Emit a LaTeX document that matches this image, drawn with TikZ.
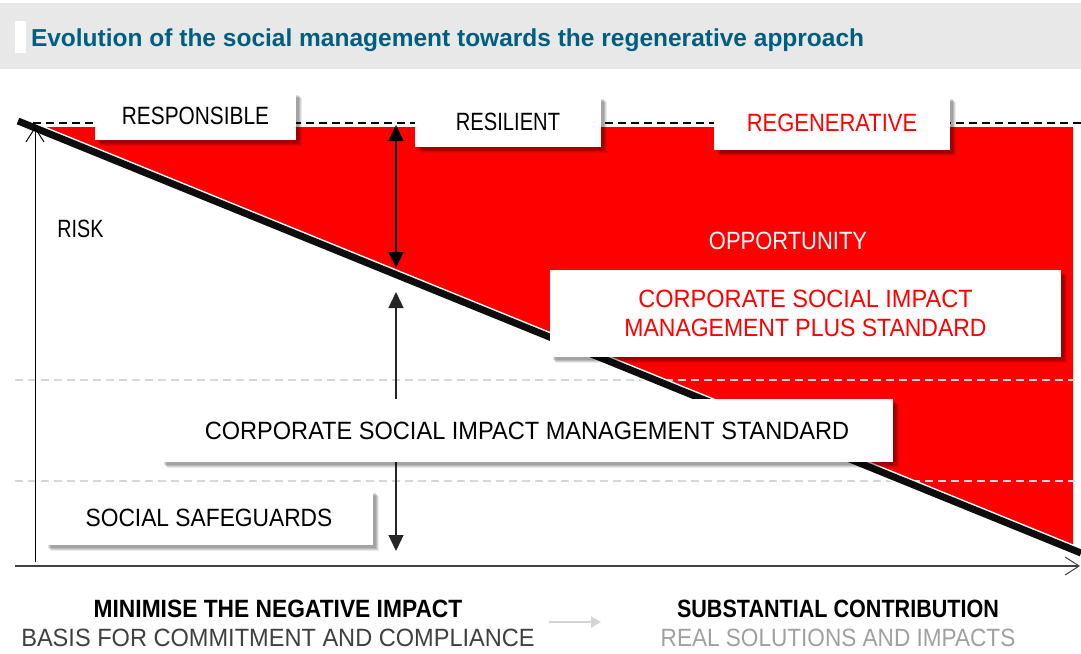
\documentclass[tikz,border=0pt]{standalone}
\usepackage{fontspec}
\setmainfont{Liberation Sans}
\usetikzlibrary{arrows.meta,shadows}
\definecolor{titleteal}{RGB}{0,94,128}
\definecolor{bandgray}{RGB}{232,232,232}
\definecolor{dashgray}{RGB}{215,215,215}
\definecolor{axisgray}{RGB}{64,64,64}
\definecolor{softgray}{RGB}{160,160,160}
\definecolor{arrowgray}{RGB}{212,212,212}
\definecolor{bred}{RGB}{255,0,0}
\newcommand{\nx}[2]{\scalebox{#1}[1]{#2}}
\begin{document}
\begin{tikzpicture}[x=1pt,y=-1pt,
  every node/.style={inner sep=0pt,outer sep=0pt},
  body/.style={font=\fontsize{25}{29}\selectfont},
  boldbody/.style={font=\bfseries\fontsize{25}{29}\selectfont},
  card/.style={fill=white,body,align=center,
    drop shadow={shadow xshift=6pt,shadow yshift=-6pt,opacity=0.08,fill=black},
    drop shadow={shadow xshift=5pt,shadow yshift=-5pt,opacity=0.10,fill=black},
    drop shadow={shadow xshift=4pt,shadow yshift=-4pt,opacity=0.12,fill=black},
    drop shadow={shadow xshift=3pt,shadow yshift=-3pt,opacity=0.12,fill=black}},
  guide/.style={dashgray,line width=1.5pt,dash pattern=on 8pt off 5pt},
  measure/.style={line width=1.3pt,{Triangle[width=15pt,length=16pt]}-{Triangle[width=15pt,length=16pt]}},
  axis/.style={line width=1pt,-{Straight Barb[length=14pt,width=18pt,line width=1pt]}}
]
\useasboundingbox (0,0) rectangle (1081,653);
% header
\fill[bandgray] (0,3) rectangle (1081,69);
\fill[white] (15,21) rectangle (26,53);
\node[anchor=base west,text=titleteal,font=\bfseries\fontsize{24.5}{28}\selectfont] (title) at (31,46.5) {Evolution of the social management towards the regenerative approach};

% red opportunity area
\coordinate (sl) at (18,121);
\coordinate (sr) at (1081,553);
\fill[bred] (32.8,127) -- (1073,127) -- (1073,549.7) -- cycle;

% guides
\coordinate (g1a) at (15,380); \coordinate (g1b) at (1075,380);
\coordinate (g2a) at (15,481); \coordinate (g2b) at (1075,481);
\draw[guide] (g1a) -- (g1b);
\draw[guide] (g2a) -- (g2b);

% slope line
\draw[white,line width=10pt] (sl) -- (sr);
\draw[black!95,line width=7pt] (sl) -- (sr);

% top dashed line
\coordinate (da) at (33,123); \coordinate (db) at (1081,123);
\draw[black,line width=2pt,dash pattern=on 8pt off 5pt] (da) -- (db);

% axes
\coordinate (yo) at (35,562); \coordinate (yt) at (35,127);
\coordinate (xo) at (15,566); \coordinate (xt) at (1080,566);
\draw[axis,black] (yo) -- (yt);
\draw[axis,axisgray,line width=1.5pt] (xo) -- (xt);

% measure arrows
\coordinate (m1a) at (396,125); \coordinate (m1b) at (396,268);
\coordinate (m2a) at (396,292); \coordinate (m2b) at (396,551);
\draw[measure,black] (m1a) -- (m1b);
\draw[measure,black!85] (m2a) -- (m2b);

% labels
\node[body] (risk) at (80.5,229) {\nx{0.79}{RISK}};
\node[body,text=white] (opp) at (788,241) {\nx{0.878}{OPPORTUNITY}};

% cards
\node[card,minimum width=201pt,minimum height=48pt] (resp) at (195.5,116) {\nx{0.834}{RESPONSIBLE}};
\node[card,minimum width=186pt,minimum height=51pt] (resil) at (508,121.5) {\nx{0.806}{RESILIENT}};
\node[card,minimum width=236pt,minimum height=54pt,text=bred] (regen) at (832,123) {\nx{0.878}{REGENERATIVE}};
\node[card,minimum width=511pt,minimum height=87pt,text=bred] (plus) at (805.5,313) {\nx{0.943}{CORPORATE SOCIAL IMPACT}\\\nx{0.919}{MANAGEMENT PLUS STANDARD}};
\node[card,minimum width=732pt,minimum height=63pt] (std) at (527,430.5) {\nx{0.943}{CORPORATE SOCIAL IMPACT MANAGEMENT STANDARD}};
\node[card,minimum width=328pt,minimum height=55pt] (safe) at (209,517.5) {\nx{0.911}{SOCIAL SAFEGUARDS}};

% bottom captions
\node[boldbody] (minim) at (278,609) {\nx{0.911}{MINIMISE THE NEGATIVE IMPACT}};
\node[body,text=axisgray] (basis) at (278,638) {\nx{0.943}{BASIS FOR COMMITMENT AND COMPLIANCE}};
\node[boldbody] (subst) at (838,609) {\nx{0.863}{SUBSTANTIAL CONTRIBUTION}};
\node[body,text=softgray] (real) at (838,638) {\nx{0.903}{REAL SOLUTIONS AND IMPACTS}};
\coordinate (ga) at (549,622); \coordinate (gb) at (601,622);
\draw[arrowgray,line width=2pt,-{Triangle[width=11pt,length=10pt]}] (ga) -- (gb);
\end{tikzpicture}
\end{document}
